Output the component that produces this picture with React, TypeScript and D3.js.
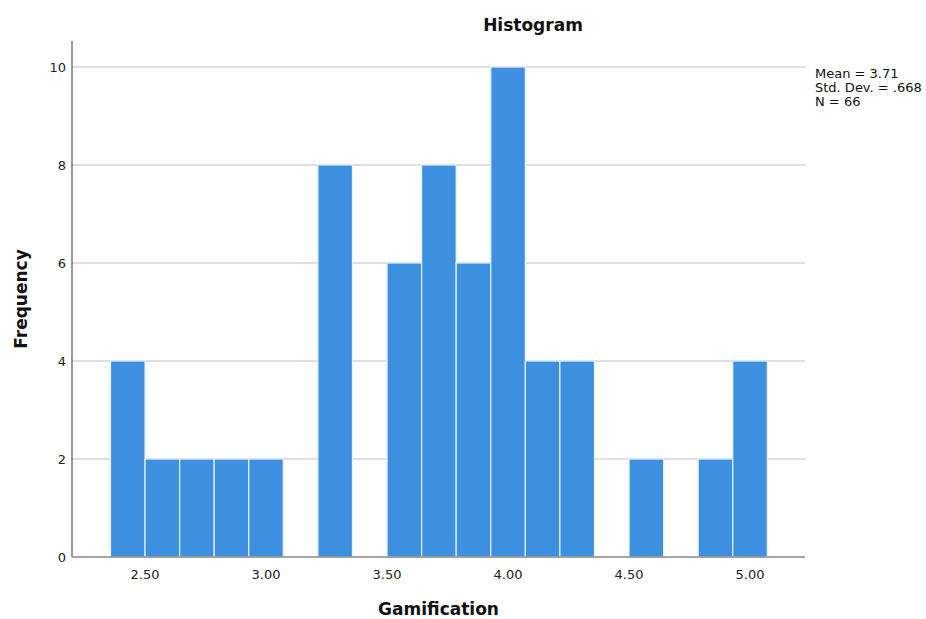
import React, { useEffect, useRef } from 'react';
import * as d3 from 'd3';

// histogram bins (lower edge) and counts
const binStart = 2.357;
const binWidth = 1 / 7;
const counts = [4, 2, 2, 2, 2, 0, 8, 0, 6, 8, 6, 10, 4, 4, 0, 2, 0, 2, 4];
const xTicks = [2.5, 3.0, 3.5, 4.0, 4.5, 5.0];
const yTicks = [0, 2, 4, 6, 8, 10];
const stats = ['Mean = 3.71', 'Std. Dev. = .668', 'N = 66'];

const App = () => {
  const ref = useRef<SVGSVGElement>(null);

  useEffect(() => {
    const svg = d3.select(ref.current);
    svg.selectAll('*').remove();

    const left = 72, right = 805, top = 41, bottom = 557;
    const x = d3.scaleLinear().domain([2.198, 5.227]).range([left, right]);
    const y = d3.scaleLinear().domain([0, 10]).range([bottom, 67]);
    const font = 'DejaVu Sans, sans-serif';

    // grid lines
    svg.append('g')
      .selectAll('line')
      .data(yTicks.filter(d => d > 0))
      .enter().append('line')
      .attr('x1', left).attr('x2', right)
      .attr('y1', d => y(d)).attr('y2', d => y(d))
      .attr('stroke', '#d4d4d4')
      .attr('stroke-width', 1.5);

    // bars
    const bins = counts.map((c, i) => ({ x0: binStart + i * binWidth, x1: binStart + (i + 1) * binWidth, c }));
    svg.append('g')
      .selectAll('rect')
      .data(bins.filter(b => b.c > 0))
      .enter().append('rect')
      .attr('x', d => x(d.x0))
      .attr('width', d => x(d.x1) - x(d.x0))
      .attr('y', d => y(d.c))
      .attr('height', d => y(0) - y(d.c))
      .attr('fill', '#3d90e0')
      .attr('stroke', '#e8f2fc')
      .attr('stroke-width', 1.2);

    // axes lines
    svg.append('line')
      .attr('x1', left).attr('x2', left).attr('y1', top).attr('y2', bottom)
      .attr('stroke', '#555').attr('stroke-width', 1.2);
    svg.append('line')
      .attr('x1', left).attr('x2', right).attr('y1', bottom).attr('y2', bottom)
      .attr('stroke', '#888').attr('stroke-width', 1.5);

    // tick labels
    svg.append('g')
      .selectAll('text')
      .data(yTicks)
      .enter().append('text')
      .attr('x', left - 6)
      .attr('y', d => y(d))
      .attr('dy', '0.35em')
      .attr('text-anchor', 'end')
      .attr('font-family', font)
      .attr('font-size', 13)
      .attr('fill', '#222')
      .text(d => d);

    svg.append('g')
      .selectAll('text')
      .data(xTicks)
      .enter().append('text')
      .attr('x', d => x(d))
      .attr('y', 579)
      .attr('text-anchor', 'middle')
      .attr('font-family', font)
      .attr('font-size', 13)
      .attr('fill', '#222')
      .text(d => d.toFixed(2));

    // titles
    svg.append('text')
      .attr('x', 533).attr('y', 31)
      .attr('text-anchor', 'middle')
      .attr('font-family', font).attr('font-weight', 'bold').attr('font-size', 17)
      .attr('fill', '#111')
      .text('Histogram');

    svg.append('text')
      .attr('x', (left + right) / 2).attr('y', 615)
      .attr('text-anchor', 'middle')
      .attr('font-family', font).attr('font-weight', 'bold').attr('font-size', 17)
      .attr('fill', '#111')
      .text('Gamification');

    svg.append('text')
      .attr('transform', `translate(27,${(top + bottom) / 2}) rotate(-90)`)
      .attr('text-anchor', 'middle')
      .attr('font-family', font).attr('font-weight', 'bold').attr('font-size', 17)
      .attr('fill', '#111')
      .text('Frequency');

    // stats
    svg.append('g')
      .selectAll('text')
      .data(stats)
      .enter().append('text')
      .attr('x', 815)
      .attr('y', (d, i) => 78 + i * 14)
      .attr('font-family', font)
      .attr('font-size', 13)
      .attr('fill', '#111')
      .text(d => d);
  }, []);

  return (
    <svg ref={ref} width={926} height={619}
      style={{ position: 'absolute', left: 0, top: 0, background: '#fff' }} />
  );
};

export default App;
